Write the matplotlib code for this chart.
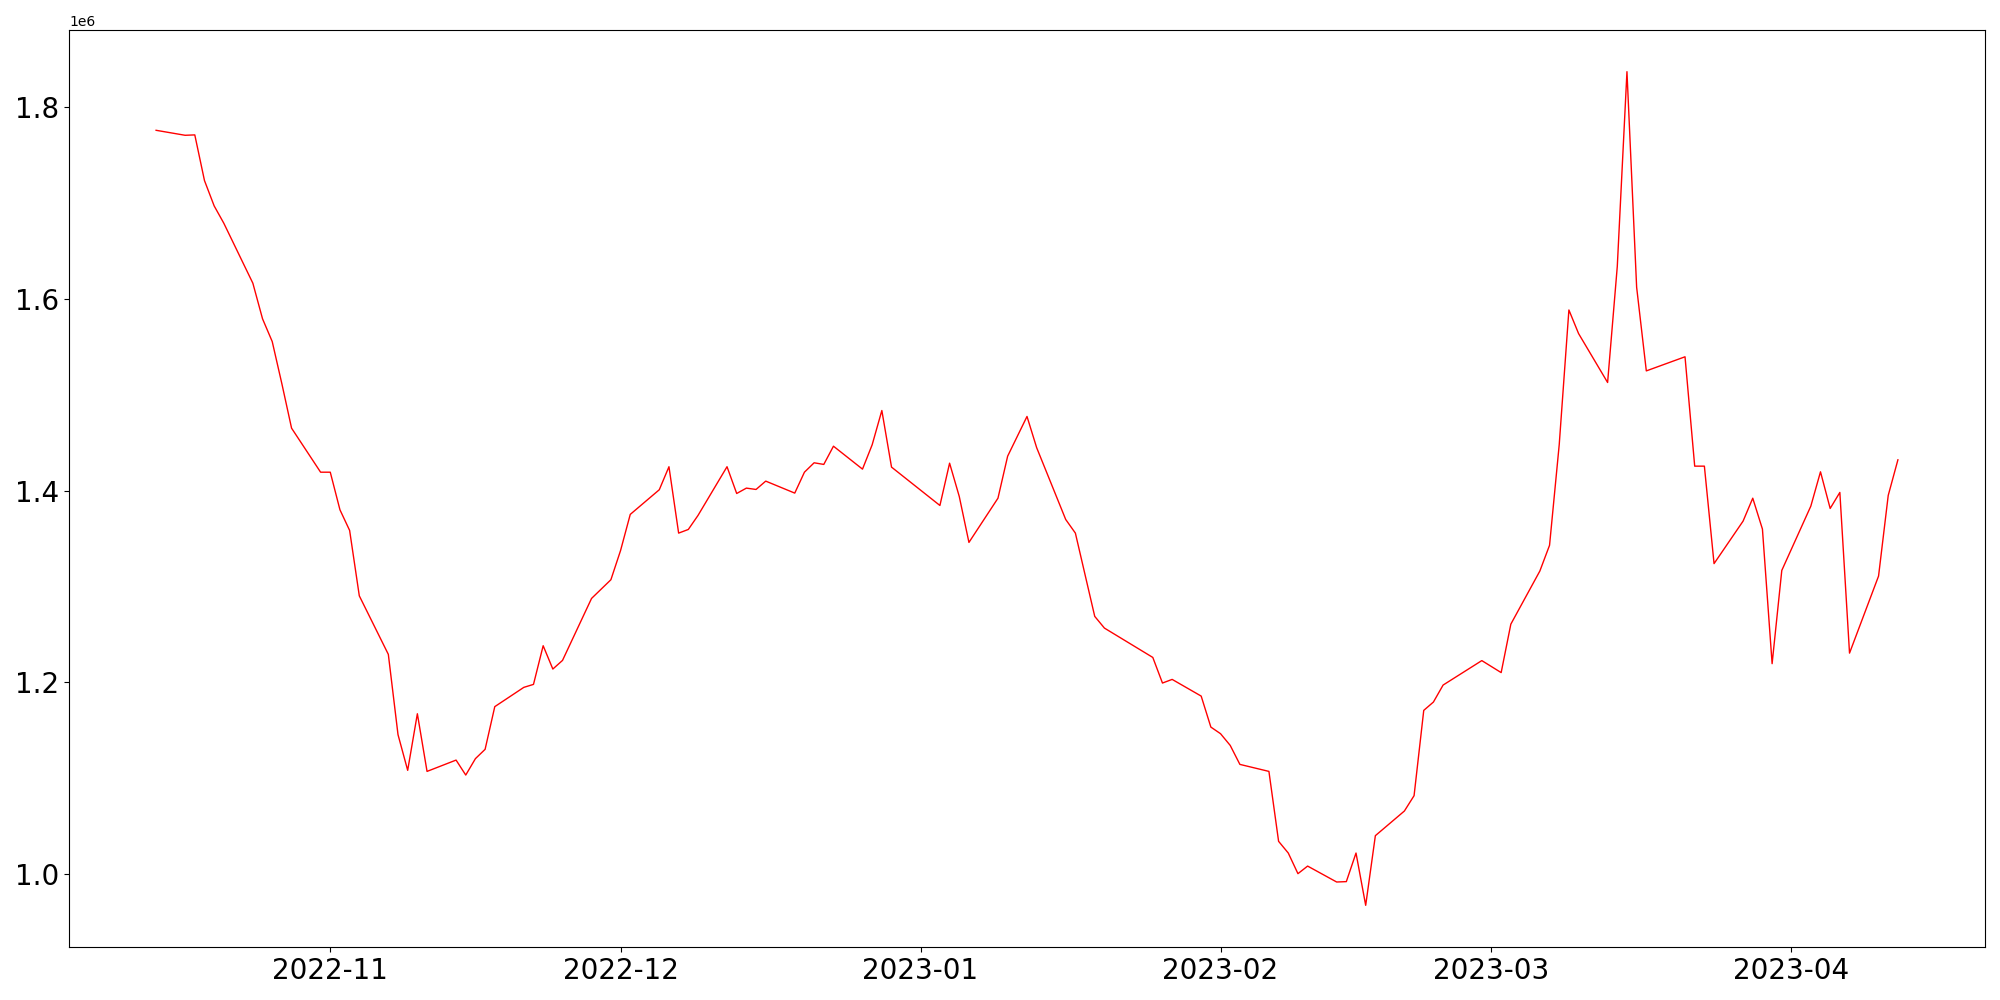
import matplotlib
matplotlib.use("Agg")
import matplotlib.pyplot as plt
import pandas as pd

# daily values (trading days)
dates = [
    "2022-10-14", "2022-10-17", "2022-10-18", "2022-10-19", "2022-10-20", "2022-10-21",
    "2022-10-24", "2022-10-25", "2022-10-26", "2022-10-27", "2022-10-28", "2022-10-31",
    "2022-11-01", "2022-11-02", "2022-11-03", "2022-11-04", "2022-11-07", "2022-11-08",
    "2022-11-09", "2022-11-10", "2022-11-11", "2022-11-14", "2022-11-15", "2022-11-16",
    "2022-11-17", "2022-11-18", "2022-11-21", "2022-11-22", "2022-11-23", "2022-11-24",
    "2022-11-25", "2022-11-28", "2022-11-30", "2022-12-01", "2022-12-02", "2022-12-05",
    "2022-12-06", "2022-12-07", "2022-12-08", "2022-12-09", "2022-12-12", "2022-12-13",
    "2022-12-14", "2022-12-15", "2022-12-16", "2022-12-19", "2022-12-20", "2022-12-21",
    "2022-12-22", "2022-12-23", "2022-12-26", "2022-12-27", "2022-12-28", "2022-12-29",
    "2023-01-03", "2023-01-04", "2023-01-05", "2023-01-06", "2023-01-09", "2023-01-10",
    "2023-01-12", "2023-01-13", "2023-01-16", "2023-01-17", "2023-01-19", "2023-01-20",
    "2023-01-25", "2023-01-26", "2023-01-27", "2023-01-30", "2023-01-31", "2023-02-01",
    "2023-02-02", "2023-02-03", "2023-02-06", "2023-02-07", "2023-02-08", "2023-02-09",
    "2023-02-10", "2023-02-13", "2023-02-14", "2023-02-15", "2023-02-16", "2023-02-17",
    "2023-02-20", "2023-02-21", "2023-02-22", "2023-02-23", "2023-02-24", "2023-02-28",
    "2023-03-02", "2023-03-03", "2023-03-06", "2023-03-07", "2023-03-08", "2023-03-09",
    "2023-03-10", "2023-03-13", "2023-03-14", "2023-03-15", "2023-03-16", "2023-03-17",
    "2023-03-21", "2023-03-22", "2023-03-23", "2023-03-24", "2023-03-27", "2023-03-28",
    "2023-03-29", "2023-03-30", "2023-03-31", "2023-04-03", "2023-04-04", "2023-04-05",
    "2023-04-06", "2023-04-07", "2023-04-10", "2023-04-11", "2023-04-12",
]

values = [
    1775600, 1770400, 1770800, 1723200, 1696800, 1678700,
    1616200, 1579100, 1555400, 1511300, 1465100, 1419200,
    1419200, 1380000, 1358500, 1290300, 1229300, 1145600,
    1108400, 1167400, 1107300, 1119100, 1103500, 1120600,
    1130300, 1174800, 1194900, 1198000, 1238300, 1214000,
    1223000, 1287600, 1307100, 1337600, 1375200, 1400900,
    1424900, 1355700, 1359500, 1374100, 1424900, 1397000,
    1402600, 1401200, 1409900, 1397400, 1419200, 1429000,
    1427300, 1446300, 1422400, 1447800, 1483500, 1424500,
    1384500, 1428600, 1393900, 1346000, 1392100, 1435900,
    1477300, 1444700, 1369900, 1355700, 1268900, 1256700,
    1226100, 1199400, 1203200, 1185800, 1153500, 1146600,
    1134400, 1114600, 1107300, 1034400, 1022200, 1000700,
    1008600, 992000, 992400, 1022200, 967700, 1040300,
    1066000, 1082000, 1170900, 1179600, 1197300, 1222800,
    1210300, 1260800, 1316200, 1343000, 1447900, 1588300,
    1563700, 1512700, 1633700, 1836700, 1612000, 1524800,
    1539500, 1425500, 1425500, 1323900, 1368200, 1392100,
    1359900, 1219600, 1316800, 1383800, 1419600, 1381400,
    1398100, 1230600, 1310900, 1395000, 1432100,
]

x = pd.to_datetime(dates)

fig, ax = plt.subplots(figsize=(20, 10), dpi=100)
fig.subplots_adjust(left=0.0345, right=0.9925, top=0.97, bottom=0.053)

ax.plot(x, values, color="red", linewidth=1)
ax.tick_params(axis="both", labelsize=20)

fig.savefig("out.png")
